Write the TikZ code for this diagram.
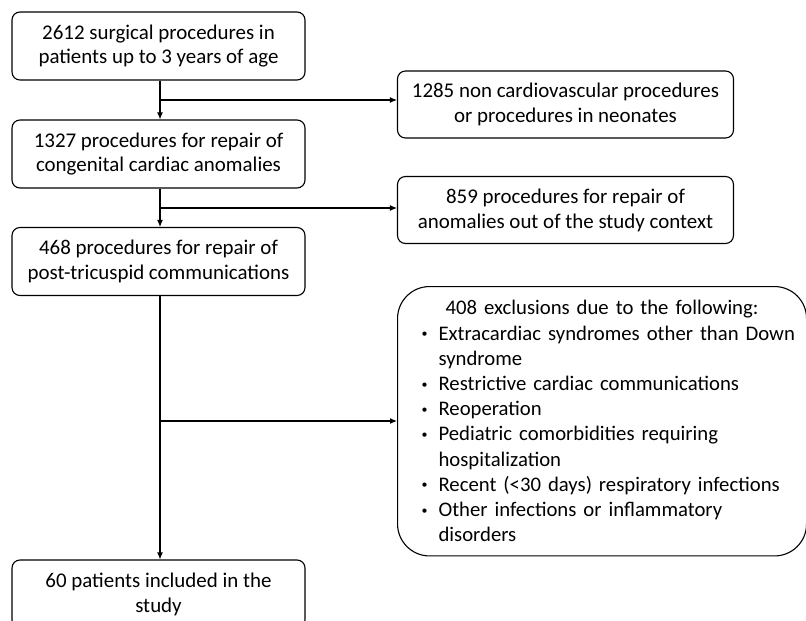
\documentclass[tikz,border=0pt]{standalone}
\usepackage{fontspec}
\setmainfont{Carlito}
\usetikzlibrary{arrows.meta}

\newcommand{\bul}[1]{\par\hangindent=18bp\hangafter=1\noindent
  \makebox[18bp][l]{\hspace{1bp}\raisebox{2.5bp}{\fontsize{12}{12}\selectfont\textbullet}}#1}

\begin{document}
\begin{tikzpicture}[x=1bp, y=-1bp,
  box/.style={draw, rounded corners=8bp, line width=1.1bp, minimum width=293bp,
    minimum height=68bp, align=center, inner sep=0pt},
  sidebox/.style={box, minimum width=336bp, minimum height=67bp},
  arr/.style={-{Latex[length=7bp,width=6bp]}, line width=1.1bp},
  font=\fontsize{21}{25}\selectfont]
\useasboundingbox (0,0) rectangle (806,621);
\clip (0,0) rectangle (806,621);

\node[box] (all) at (158.5,46) {2612 surgical procedures in\\patients up to 3 years of age};
\node[box] (cardiac) at (158.5,154) {1327 procedures for repair of\\congenital cardiac anomalies};
\node[box] (post) at (158.5,261.5) {468 procedures for repair of\\post-tricuspid communications};
\node[box] (incl) at (158.5,594) {60 patients included in the\\study};

\node[sidebox] (ex1) at (565.5,104.5) {1285 non cardiovascular procedures\\or procedures in neonates};
\node[sidebox] (ex2) at (565.5,210) {859 procedures for repair of\\anomalies out of the study context};
\node[draw, rounded corners=32bp, line width=1.1bp, anchor=north west, minimum width=409bp,
  text width=399bp, inner xsep=5bp, inner ysep=14bp] (ex3) at (397,286) {%
  \fontsize{20.8}{25.3}\selectfont
  \leftskip=14bp
  \centering 408 exclusions due to the following:\par
  \raggedright\leftskip=18bp
  \bul{Extracardiac syndromes other than Down syndrome}
  \bul{Restrictive cardiac communications}
  \bul{Reoperation}
  \bul{Pediatric comorbidities requiring hospitalization}
  \bul{Recent (<30 days) respiratory infections}
  \bul{Other infections or inflammatory disorders}\par};

% branch points on the main line
\coordinate (b1) at (160,100);
\coordinate (b2) at (160,208);
\coordinate (b3) at (160,421);

\draw[arr] (all.south -| b1) -- (cardiac.north -| b1);
\draw[arr] (cardiac.south -| b2) -- (post.north -| b2);
\draw[arr] (post.south -| b3) -- (incl.north -| b3);

\draw[arr] (b1) -- (b1 -| ex1.west);
\draw[arr] (b2) -- (b2 -| ex2.west);
\draw[arr] (b3) -- (b3 -| ex3.west);
\end{tikzpicture}
\end{document}
